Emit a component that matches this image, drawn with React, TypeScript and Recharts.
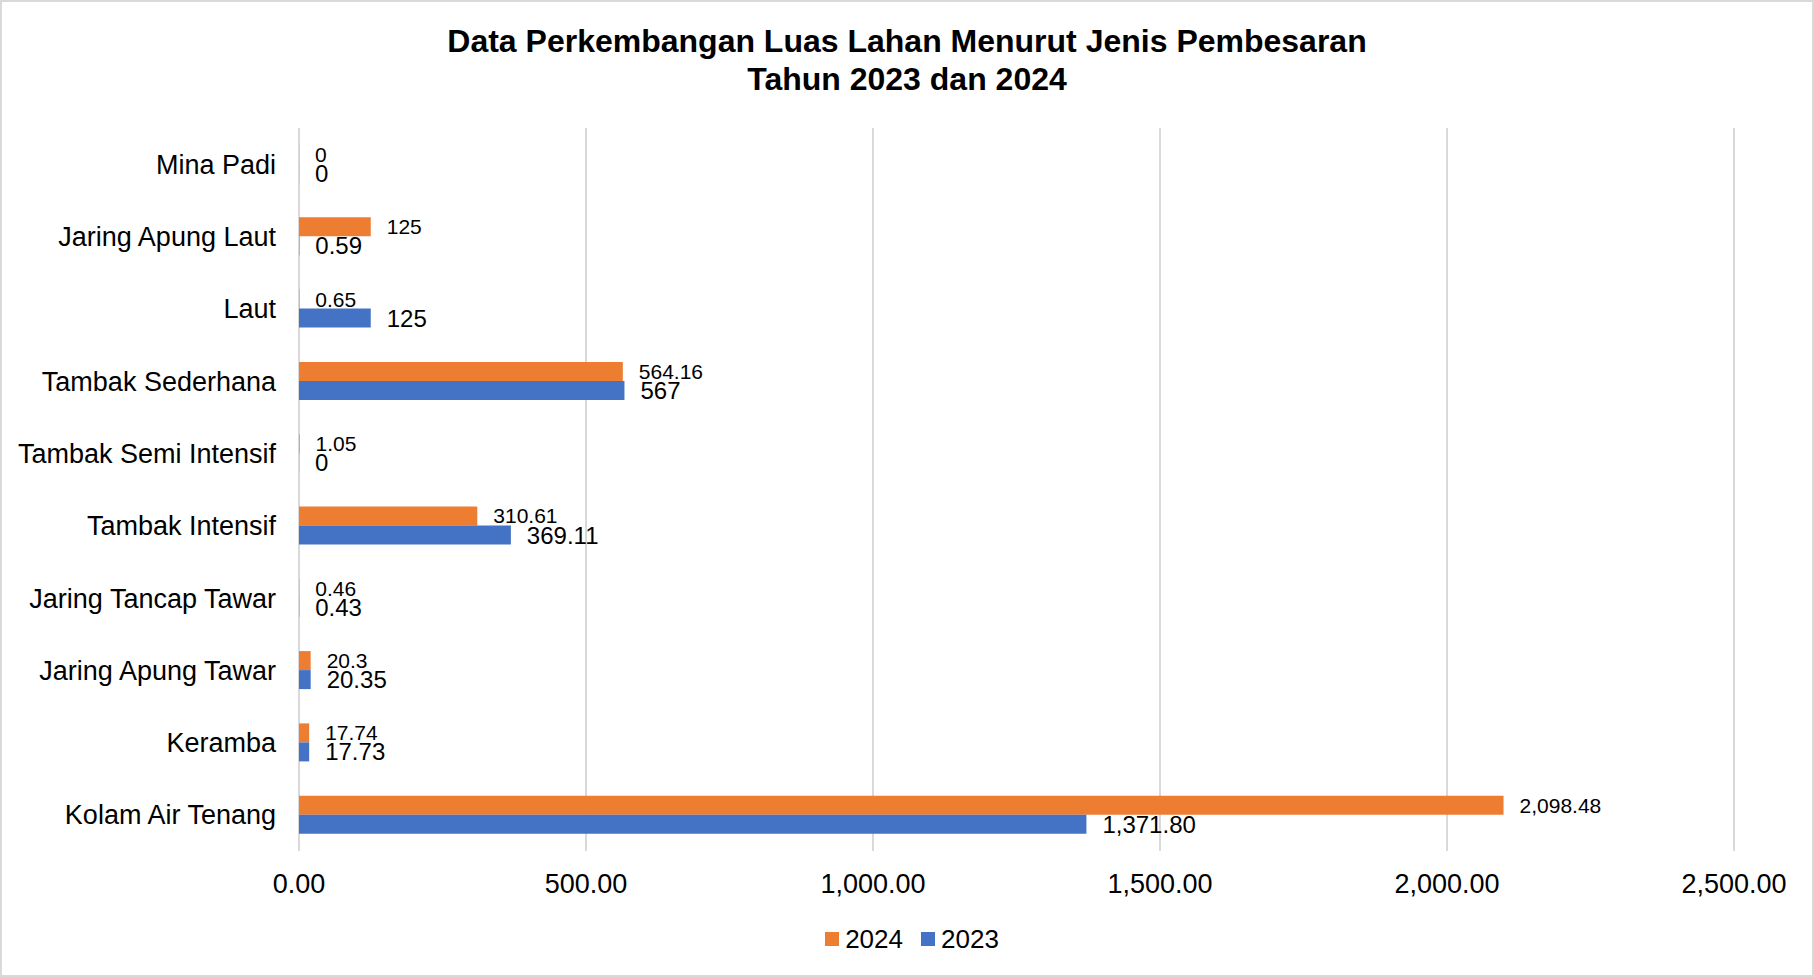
import React from "react";
import { BarChart, Bar, XAxis, YAxis, CartesianGrid, LabelList, Legend } from "recharts";

const categories = [
  "Mina Padi",
  "Jaring Apung Laut",
  "Laut",
  "Tambak Sederhana",
  "Tambak Semi Intensif",
  "Tambak Intensif",
  "Jaring Tancap Tawar",
  "Jaring Apung Tawar",
  "Keramba",
  "Kolam Air Tenang",
];
const values2024 = [0, 125, 0.65, 564.16, 1.05, 310.61, 0.46, 20.3, 17.74, 2098.48];
const values2023 = [0, 0.59, 125, 567, 0, 369.11, 0.43, 20.35, 17.73, 1371.8];
const labels2024 = ["0", "125", "0.65", "564.16", "1.05", "310.61", "0.46", "20.3", "17.74", "2,098.48"];
const labels2023 = ["0", "0.59", "125", "567", "0", "369.11", "0.43", "20.35", "17.73", "1,371.80"];
const xTicks = [0, 500, 1000, 1500, 2000, 2500];

const data = categories.map((c, i) => ({
  name: c,
  v2024: values2024[i],
  v2023: values2023[i],
  l2024: labels2024[i],
  l2023: labels2023[i],
}));

const ORANGE = "#ED7D31";
const BLUE = "#4472C4";
const FONT = "'Liberation Sans', Arial, sans-serif";

const fmt = (v: number) =>
  v.toLocaleString("en-US", { minimumFractionDigits: 2, maximumFractionDigits: 2 });

const LegendContent = () => (
  <div
    style={{
      display: "flex",
      justifyContent: "center",
      alignItems: "center",
      height: 40,
      fontFamily: FONT,
      fontSize: 26,
      color: "#000",
      paddingLeft: 90,
    }}
  >
    <span style={{ display: "inline-block", width: 14, height: 14, background: ORANGE, marginRight: 6 }} />
    <span style={{ marginRight: 18 }}>2024</span>
    <span style={{ display: "inline-block", width: 14, height: 14, background: BLUE, marginRight: 6 }} />
    <span>2023</span>
  </div>
);

export default function App() {
  return (
    <div
      style={{
        position: "absolute",
        left: 0,
        top: 0,
        width: 1814,
        height: 977,
        background: "#fff",
        border: "2px solid #d9d9d9",
        boxSizing: "border-box",
        fontFamily: FONT,
      }}
    >
      <div
        style={{
          position: "absolute",
          left: 0,
          top: 20,
          width: 1810,
          textAlign: "center",
          fontWeight: "bold",
          fontSize: 32,
          lineHeight: "38px",
          color: "#000",
        }}
      >
        Data Perkembangan Luas Lahan Menurut Jenis Pembesaran
        <br />
        Tahun 2023 dan 2024
      </div>
      <div style={{ position: "absolute", left: -2, top: -2 }}>
        <BarChart
          width={1814}
          height={977}
          data={data}
          layout="vertical"
          margin={{ top: 128, right: 80, bottom: 36, left: 0 }}
          barGap={0}
        >
          <CartesianGrid horizontal={false} vertical={true} stroke="#d9d9d9" strokeWidth={2} />
          <XAxis
            type="number"
            domain={[0, 2500]}
            ticks={xTicks}
            tickFormatter={fmt}
            axisLine={false}
            tickLine={false}
            tickSize={0}
            tickMargin={23}
            height={50}
            tick={{ fontSize: 27, fill: "#000", fontFamily: FONT }}
            interval={0}
          />
          <YAxis
            type="category"
            dataKey="name"
            width={299}
            axisLine={false}
            tickLine={false}
            tickSize={0}
            tickMargin={23}
            tick={{ fontSize: 27, fill: "#000", fontFamily: FONT }}
            interval={0}
          />
          <Legend
            verticalAlign="bottom"
            align="center"
            content={<LegendContent />}
            wrapperStyle={{ bottom: 18, height: 40 }}
          />
          <Bar dataKey="v2024" name="2024" fill={ORANGE} barSize={19} minPointSize={0.1} isAnimationActive={false}>
            <LabelList
              dataKey="l2024"
              position="right"
              offset={16}
              style={{ fontSize: 21, fill: "#000", fontFamily: FONT }}
            />
          </Bar>
          <Bar dataKey="v2023" name="2023" fill={BLUE} barSize={19} minPointSize={0.1} isAnimationActive={false}>
            <LabelList
              dataKey="l2023"
              position="right"
              offset={16}
              style={{ fontSize: 24, fill: "#000", fontFamily: FONT }}
            />
          </Bar>
        </BarChart>
      </div>
    </div>
  );
}
